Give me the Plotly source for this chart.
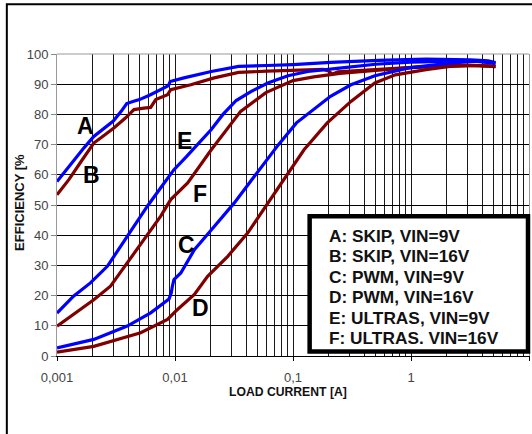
import plotly.graph_objects as go

# ---------------- data ----------------
x_tick_vals = [0.001, 0.01, 0.1, 1, 10]
x_tick_text = ["0,001", "0,01", "0,1", "1", "10"]
y_tick_vals = [0, 10, 20, 30, 40, 50, 60, 70, 80, 90, 100]
y_tick_text = [str(v) for v in y_tick_vals]

legend_lines = ["A: SKIP, VIN=9V", "B: SKIP, VIN=16V", "C: PWM, VIN=9V",
                "D: PWM, VIN=16V", "E: ULTRAS, VIN=9V", "F: ULTRAS. VIN=16V"]
curve_letters = ["A", "B", "C", "D", "E", "F"]

# A: SKIP, VIN=9V
a_x = [0.001, 0.0013, 0.0017, 0.00205, 0.0025, 0.003, 0.0035, 0.0039, 0.0044, 0.005,
       0.0062, 0.0075, 0.0088, 0.0091, 0.0119, 0.0203, 0.0346, 0.06, 0.1, 0.208,
       0.53, 1.34, 3.2, 4.5, 5.2]
a_y = [57.8, 63.5, 69.0, 72.7, 75.3, 77.8, 81.0, 83.6, 84.3, 84.9,
       86.5, 88.2, 89.5, 90.9, 92.1, 94.2, 95.9, 96.2, 96.5, 97.2,
       97.9, 98.3, 98.1, 97.7, 97.2]

# B: SKIP, VIN=16V
b_x = [0.001, 0.00126, 0.0016, 0.00205, 0.0025, 0.00303, 0.0038, 0.00449, 0.00546,
       0.00622, 0.00687, 0.00864, 0.0092, 0.0136, 0.0215, 0.0346, 0.06, 0.1, 0.18,
       0.2, 0.215, 0.24, 0.4, 0.8, 1.5, 3.0, 4.5, 5.2]
b_y = [53.4, 58.4, 64.4, 70.5, 73.0, 75.5, 78.8, 81.6, 82.1,
       82.3, 84.9, 86.5, 88.2, 89.8, 92.1, 93.9, 94.3, 94.7, 94.9,
       94.4, 93.3, 94.1, 94.5, 95.3, 96.0, 96.3, 96.1, 95.8]

# C: PWM, VIN=9V
c_x = [0.001, 0.00205, 0.00394, 0.00622, 0.0089, 0.0093, 0.0095, 0.0098, 0.0112,
       0.0146, 0.0215, 0.0318, 0.0471, 0.0597, 0.075, 0.107, 0.149, 0.208, 0.31,
       0.494, 0.96, 2.14, 3.5, 5.2]
c_y = [2.7, 5.5, 9.9, 14.3, 18.9, 20.9, 23.1, 25.3, 27.5,
       35.2, 42.9, 50.7, 59.5, 65.0, 69.9, 77.2, 81.6, 86.0, 89.8,
       92.8, 95.4, 97.0, 97.6, 96.9]

# D: PWM, VIN=16V
d_x = [0.001, 0.00205, 0.00512, 0.00864, 0.0105, 0.0146, 0.0189, 0.023, 0.028,
       0.0414, 0.0607, 0.124, 0.195, 0.31, 0.494, 0.736, 1.34, 2.14, 3.5, 5.2]
d_y = [1.3, 3.2, 7.7, 12.1, 15.4, 20.4, 26.4, 29.7, 33.0,
       40.8, 50.4, 68.3, 77.2, 84.3, 90.4, 93.1, 94.8, 95.9, 96.2, 95.8]

# E: ULTRAS, VIN=9V
e_x = [0.001, 0.00138, 0.00192, 0.00267, 0.00346, 0.00449, 0.00583, 0.00757, 0.0098,
       0.0125, 0.016, 0.0203, 0.0255, 0.033, 0.0443, 0.0612, 0.0906, 0.134, 0.26, 0.5,
       1.0, 2.0, 3.5, 5.2]
e_y = [14.2, 19.8, 24.2, 29.7, 36.3, 42.9, 49.6, 55.7, 61.7,
       66.0, 70.5, 75.0, 80.0, 84.6, 87.6, 90.4, 92.8, 94.2, 95.4, 96.6,
       97.3, 97.7, 97.8, 97.0]

# F: ULTRAS, VIN=16V
f_x = [0.001, 0.00205, 0.00284, 0.00394, 0.00546, 0.00757, 0.0092, 0.0128, 0.0203,
       0.036, 0.0589, 0.1, 0.15, 0.25, 0.5, 1.0, 2.0, 3.5, 5.2]
f_y = [9.9, 18.6, 23.1, 30.8, 38.6, 46.3, 51.8, 57.3, 68.3,
       81.0, 87.2, 91.2, 92.4, 93.6, 94.6, 95.5, 96.0, 96.2, 95.9]

BLUE = "#0000FF"
RED = "#800000"

series = [
    (b_x, b_y, RED), (d_x, d_y, RED), (f_x, f_y, RED),
    (a_x, a_y, BLUE), (c_x, c_y, BLUE), (e_x, e_y, BLUE),
]

# ---------------- layout geometry (screen pixels) ----------------
W, H = 532, 434
PLOT_L, PLOT_R, PLOT_T, PLOT_B = 56.7, 529.0, 54.3, 356.5
ML = PLOT_L
MT = PLOT_T
MR = W - PLOT_R
MB = H - PLOT_B
PW = PLOT_R - PLOT_L
PH = PLOT_B - PLOT_T


def px(xs):
    return (xs - PLOT_L) / PW


def py(ys):
    return (PLOT_B - ys) / PH


FONT = "Liberation Sans, Arial, sans-serif"

fig = go.Figure()
for xs, ys, col in series:
    fig.add_trace(go.Scatter(x=xs, y=ys, mode="lines",
                             line=dict(color=col, width=3.2),
                             showlegend=False, hoverinfo="skip"))

minor_vals = [m * 10.0 ** e for e in range(-3, 1) for m in range(2, 10)]

fig.update_layout(
    width=W, height=H, autosize=False,
    margin=dict(l=ML, r=MR, t=MT, b=MB, pad=0),
    paper_bgcolor="white", plot_bgcolor="white",
    font=dict(family=FONT, size=13, color="#444"),
    showlegend=False,
    xaxis=dict(
        type="log", range=[-3, 1],
        tickmode="array", tickvals=x_tick_vals, ticktext=x_tick_text,
        ticks="outside", ticklen=4, tickcolor="#000", tickwidth=1,
        ticklabelstandoff=5,
        showgrid=True, gridcolor="#1a1a1a", gridwidth=1,
        minor=dict(tickmode="array", tickvals=minor_vals, showgrid=True,
                   gridcolor="#1a1a1a", gridwidth=1, ticks=""),
        showline=True, linecolor="#000", linewidth=1, mirror=False,
        zeroline=False,
        tickfont=dict(family=FONT, size=13, color="#444"),
    ),
    yaxis=dict(
        range=[0, 100],
        tickmode="array", tickvals=y_tick_vals, ticktext=y_tick_text,
        ticks="outside", ticklen=5, tickcolor="#888", tickwidth=1,
        showgrid=True, gridcolor="#000", gridwidth=1,
        showline=True, linecolor="#999", linewidth=1, mirror=True,
        zeroline=False,
        tickfont=dict(family=FONT, size=13, color="#444"),
    ),
)

shapes = []
# outer frame (extends beyond the window on right/bottom)
shapes.append(dict(type="rect", xref="paper", yref="paper",
                   x0=px(6.5), x1=px(560), y0=py(470), y1=py(4.5),
                   line=dict(color="#000", width=2), fillcolor="rgba(0,0,0,0)",
                   layer="above"))
# top border of plot (gray)
shapes.append(dict(type="line", xref="paper", yref="paper",
                   x0=0, x1=1, y0=1, y1=1, line=dict(color="#999", width=1),
                   layer="above"))
# legend box
shapes.append(dict(type="rect", xref="paper", yref="paper",
                   x0=px(309.5), x1=px(528), y0=py(352), y1=py(216.7),
                   line=dict(color="#000", width=4.5), fillcolor="white",
                   layer="above"))
fig.update_layout(shapes=shapes)

annotations = []
row_y = [236.7, 256.9, 277.3, 297.5, 318.0, 338.3]
for txt, yy in zip(legend_lines, row_y):
    annotations.append(dict(text=txt, xref="paper", yref="paper",
                            x=px(326.5), y=py(yy), xanchor="left", yanchor="middle",
                            showarrow=False,
                            font=dict(family=FONT, size=17.3, color="#111", weight="bold")))

letter_pos = {"A": (85, 126), "B": (91.5, 175.5), "C": (186.3, 245.3),
              "D": (200, 308.3), "E": (184, 141.5), "F": (199.7, 194.7)}
for letter in curve_letters:
    lx, ly = letter_pos[letter]
    annotations.append(dict(text=letter, xref="paper", yref="paper",
                            x=px(lx), y=py(ly), xanchor="center", yanchor="middle",
                            showarrow=False,
                            font=dict(family=FONT, size=23, color="#000", weight="bold")))

# axis titles
annotations.append(dict(text="LOAD CURRENT [A]", xref="paper", yref="paper",
                        x=px(288), y=py(393), xanchor="center", yanchor="middle",
                        showarrow=False,
                        font=dict(family=FONT, size=12.2, color="#111", weight="bold")))
annotations.append(dict(text="EFFICIENCY [%", xref="paper", yref="paper",
                        x=px(18.5), y=py(253), xanchor="center", yanchor="bottom",
                        textangle=-90, showarrow=False,
                        font=dict(family=FONT, size=13, color="#111", weight="bold")))
fig.update_layout(annotations=annotations)

fig.write_html("out.html",
               config={"displayModeBar": False, "staticPlot": True},
               post_script="document.body.style.margin='0';document.body.style.overflow='hidden';")
